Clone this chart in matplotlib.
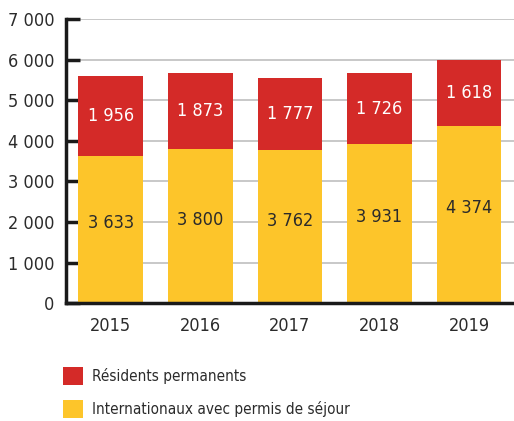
import matplotlib
matplotlib.use('Agg')
import matplotlib.pyplot as plt
from matplotlib.patches import Patch
from matplotlib.ticker import FuncFormatter

plt.rcParams['font.family'] = ['DejaVu Sans']
plt.rcParams['font.stretch'] = 'condensed'

years = ['2015', '2016', '2017', '2018', '2019']
internationaux = [3633, 3800, 3762, 3931, 4374]
residents = [1956, 1873, 1777, 1726, 1618]

RED = '#D42A28'
YELLOW = '#FDC52A'
TXT = '#2b2b2b'

def fmt(v, pos=None):
    return f"{int(v):,}".replace(',', ' ')

fig = plt.figure(figsize=(5.14, 4.21), dpi=100)
ax = fig.add_axes([0.128, 0.28, 0.872, 0.675])

x = range(len(years))
ax.bar(x, internationaux, width=0.72, color=YELLOW, zorder=2)
ax.bar(x, residents, bottom=internationaux, width=0.72, color=RED, zorder=2)

for i in x:
    ax.text(i, internationaux[i] / 2 + 150, fmt(internationaux[i]), ha='center', va='center',
            fontsize=13, color=TXT)
    ax.text(i, internationaux[i] + residents[i] / 2, fmt(residents[i]), ha='center', va='center',
            fontsize=13, color='white')

ax.set_xlim(-0.5, 4.5)
ax.set_ylim(0, 7000)
ax.set_yticks(range(0, 7001, 1000))
ax.yaxis.set_major_formatter(FuncFormatter(fmt))
ax.set_xticks(list(x))
ax.set_xticklabels(years)
ax.grid(axis='y', color='#c4c4c4', lw=1.3, zorder=0)
for s in ['top', 'right']:
    ax.spines[s].set_visible(False)
for s in ['left', 'bottom']:
    ax.spines[s].set_linewidth(2.5)
    ax.spines[s].set_color('#1a1a1a')
    ax.spines[s].set_zorder(3)
ax.tick_params(axis='y', direction='in', length=10, width=2.5, color='#1a1a1a',
               labelsize=13, labelcolor=TXT, pad=8)
ax.tick_params(axis='x', length=0, labelsize=13, labelcolor=TXT, pad=10)

handles = [Patch(facecolor=RED, label='Résidents permanents'),
           Patch(facecolor=YELLOW, label='Internationaux avec permis de séjour')]
fig.legend(handles=handles, loc='upper left', bbox_to_anchor=(0.122, 0.128),
           frameon=False, fontsize=11, labelcolor=TXT, handlelength=1.35, handleheight=1.45,
           handletextpad=0.6, labelspacing=0.95, borderaxespad=0, borderpad=0)

fig.savefig('out.png', dpi=100)
